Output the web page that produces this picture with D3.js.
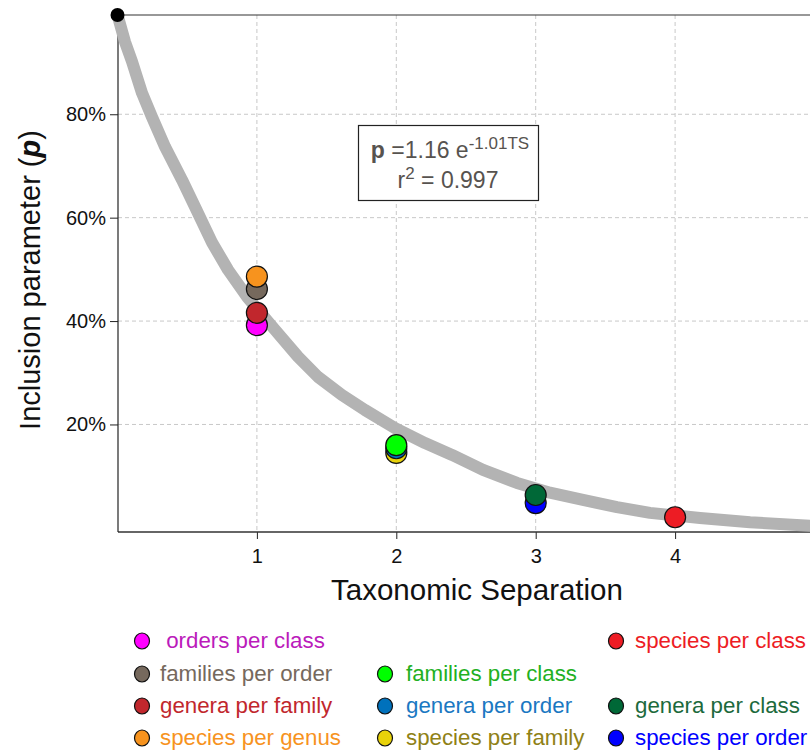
<!DOCTYPE html>
<html>
<head>
<meta charset="utf-8">
<script src="https://cdn.jsdelivr.net/npm/d3@7"></script>
<style>
  html, body { margin: 0; padding: 0; background: #fff; }
  svg { display: block; font-family: "Liberation Sans", Arial, sans-serif; }
</style>
</head>
<body>
<svg id="chart" width="810" height="751"></svg>
<script>
// Observed inclusion parameter per taxonomic pairing
const seriesNames = [
  "orders per class", "families per order", "genera per family", "species per genus",
  "families per class", "genera per order", "species per family",
  "species per class", "genera per class", "species per order"
];
const seriesTS = [1, 1, 1, 1, 2, 2, 2, 4, 3, 3];
const seriesP  = [0.392, 0.462, 0.416, 0.486, 0.160, 0.154, 0.145, 0.0205, 0.0636, 0.048];

// Decay curve traced along taxonomic separation
const curveTS = [0, 0.054, 0.104, 0.176, 0.247, 0.341, 0.463, 0.556, 0.678, 0.793, 0.929,
  1.130, 1.295, 1.438, 1.610, 1.775, 1.991, 2.206, 2.400, 2.622, 2.866, 3.102, 3.339,
  3.583, 3.820, 4.179, 4.538, 4.968, 5.0];
const curveP = [0.992, 0.940, 0.902, 0.841, 0.795, 0.737, 0.673, 0.621, 0.552, 0.499, 0.447,
  0.383, 0.331, 0.292, 0.257, 0.228, 0.193, 0.164, 0.141, 0.112, 0.087, 0.068, 0.054,
  0.040, 0.029, 0.019, 0.011, 0.004, 0.0035];

const xTicks = [1, 2, 3, 4];
const yTicks = [0.2, 0.4, 0.6, 0.8];

// Styling
const fillColors = ["#ff00ff", "#76695d", "#c1272d", "#f7931e", "#00ff00", "#0071bc",
  "#e8d20a", "#ed1c24", "#006837", "#0000ff"];
const textColors = ["#bb1bbb", "#76695d", "#c1272d", "#f7931e", "#22b022", "#1a78c2",
  "#8f8116", "#ed1c24", "#1c6a3c", "#0000ff"];
// legend grid slot [column, row] for each series
const legendSlots = [[0, 0], [0, 1], [0, 2], [0, 3], [1, 1], [1, 2], [1, 3], [2, 0], [2, 2], [2, 3]];
// draw order so that the upper dots sit on top where they overlap
const drawOrder = [0, 2, 1, 3, 6, 5, 4, 9, 8, 7];

const svg = d3.select("#chart");
const plotLeft = 118, plotTop = 15, plotBottom = 532, plotRight = 810;

const x = d3.scaleLinear().domain([0, 5]).range([117.5, 814.5]);
const y = d3.scaleLinear().domain([-0.008, 0.992]).range([plotBottom, plotTop]);

// grid
const grid = svg.append("g").attr("stroke", "#c8c8c8").attr("stroke-dasharray", "4,3").attr("stroke-width", 1);
grid.selectAll("line.v").data(xTicks).join("line").attr("class", "v")
  .attr("x1", d => x(d)).attr("x2", d => x(d)).attr("y1", plotTop).attr("y2", plotBottom);
grid.selectAll("line.h").data(yTicks).join("line").attr("class", "h")
  .attr("x1", plotLeft).attr("x2", plotRight).attr("y1", d => y(d)).attr("y2", d => y(d));

// axes
const xAxis = d3.axisBottom(x).tickValues(xTicks).tickFormat(d3.format("d")).tickSize(7).tickPadding(10);
const gx = svg.append("g").attr("transform", `translate(0,${plotBottom})`).call(xAxis);
gx.select(".domain").remove();
gx.selectAll("text").attr("font-size", 20).attr("fill", "#111").attr("font-family", "Liberation Sans, Arial, sans-serif");
gx.selectAll("line").attr("stroke", "#222");

const yAxis = d3.axisLeft(y).tickValues(yTicks).tickFormat(d3.format(".0%")).tickSize(8).tickPadding(4);
const gy = svg.append("g").attr("transform", `translate(${plotLeft},0)`).call(yAxis);
gy.select(".domain").remove();
gy.selectAll("text").attr("font-size", 20).attr("fill", "#111").attr("font-family", "Liberation Sans, Arial, sans-serif");
gy.selectAll("line").attr("stroke", "#222");

// frame lines
svg.append("line").attr("x1", plotLeft).attr("x2", plotRight).attr("y1", plotBottom).attr("y2", plotBottom)
  .attr("stroke", "#333").attr("stroke-width", 1.5);
svg.append("line").attr("x1", plotLeft).attr("x2", plotLeft).attr("y1", plotTop).attr("y2", plotBottom)
  .attr("stroke", "#222").attr("stroke-width", 1.2);
svg.append("line").attr("x1", plotLeft).attr("x2", plotRight).attr("y1", plotTop).attr("y2", plotTop)
  .attr("stroke", "#333").attr("stroke-width", 1.2);

// decay curve
const curvePts = curveTS.map((t, i) => [t, curveP[i]]);
svg.append("path")
  .datum(curvePts)
  .attr("fill", "none")
  .attr("stroke", "#b3b3b3")
  .attr("stroke-width", 12)
  .attr("stroke-linejoin", "round")
  .attr("stroke-linecap", "round")
  .attr("d", d3.line().x(d => x(d[0])).y(d => y(d[1])));

// origin marker
svg.append("circle").attr("cx", x(0)).attr("cy", y(curveP[0])).attr("r", 7).attr("fill", "#000");

// observed points
svg.append("g").selectAll("circle").data(drawOrder).join("circle")
  .attr("cx", i => x(seriesTS[i]))
  .attr("cy", i => y(seriesP[i]))
  .attr("r", 10.5)
  .attr("fill", i => fillColors[i])
  .attr("stroke", "#111")
  .attr("stroke-width", 1.2);

// fitted equation box
svg.append("rect").attr("x", 358.5).attr("y", 125.5).attr("width", 180).attr("height", 75)
  .attr("fill", "#fff").attr("stroke", "#222").attr("stroke-width", 1.2);
const eq1 = svg.append("text").attr("x", 450).attr("y", 158).attr("text-anchor", "middle")
  .attr("fill", "#57534f").attr("font-size", 23);
eq1.append("tspan").attr("font-weight", "bold").text("p");
eq1.append("tspan").text(" =1.16 e");
eq1.append("tspan").attr("font-size", 17).attr("dy", -9).text("-1.01TS");
const eq2 = svg.append("text").attr("x", 448).attr("y", 188).attr("text-anchor", "middle")
  .attr("fill", "#57534f").attr("font-size", 23);
eq2.append("tspan").text("r");
eq2.append("tspan").attr("font-size", 17).attr("dy", -9).text("2");
eq2.append("tspan").attr("dy", 9).text(" = 0.997");

// axis titles
svg.append("text").attr("x", 477).attr("y", 600).attr("text-anchor", "middle")
  .attr("font-size", 29.5).attr("fill", "#111").text("Taxonomic Separation");
const yt = svg.append("text").attr("transform", "translate(40,280) rotate(-90)")
  .attr("text-anchor", "middle").attr("font-size", 29).attr("fill", "#111");
yt.append("tspan").text("Inclusion parameter (");
yt.append("tspan").attr("font-weight", "bold").attr("font-style", "italic").text("p");
yt.append("tspan").text(")");

// legend
const colX = [142, 385, 616];
const textX = [160, 406, 635];
const rowY = [641, 674, 706, 738];
const leg = svg.append("g").selectAll("g").data(seriesNames.map((n, i) => i)).join("g");
leg.append("ellipse")
  .attr("cx", i => colX[legendSlots[i][0]])
  .attr("cy", i => rowY[legendSlots[i][1]])
  .attr("rx", 7.5).attr("ry", 8)
  .attr("fill", i => fillColors[i]).attr("stroke", "#111").attr("stroke-width", 1.2);
leg.append("text")
  .attr("x", i => textX[legendSlots[i][0]])
  .attr("y", i => rowY[legendSlots[i][1]] + 7)
  .attr("font-size", 22.3)
  .attr("fill", i => textColors[i])
  .attr("xml:space", "preserve")
  .style("white-space", "pre")
  .text(i => (i === 0 ? " " : "") + seriesNames[i]);
</script>
</body>
</html>
